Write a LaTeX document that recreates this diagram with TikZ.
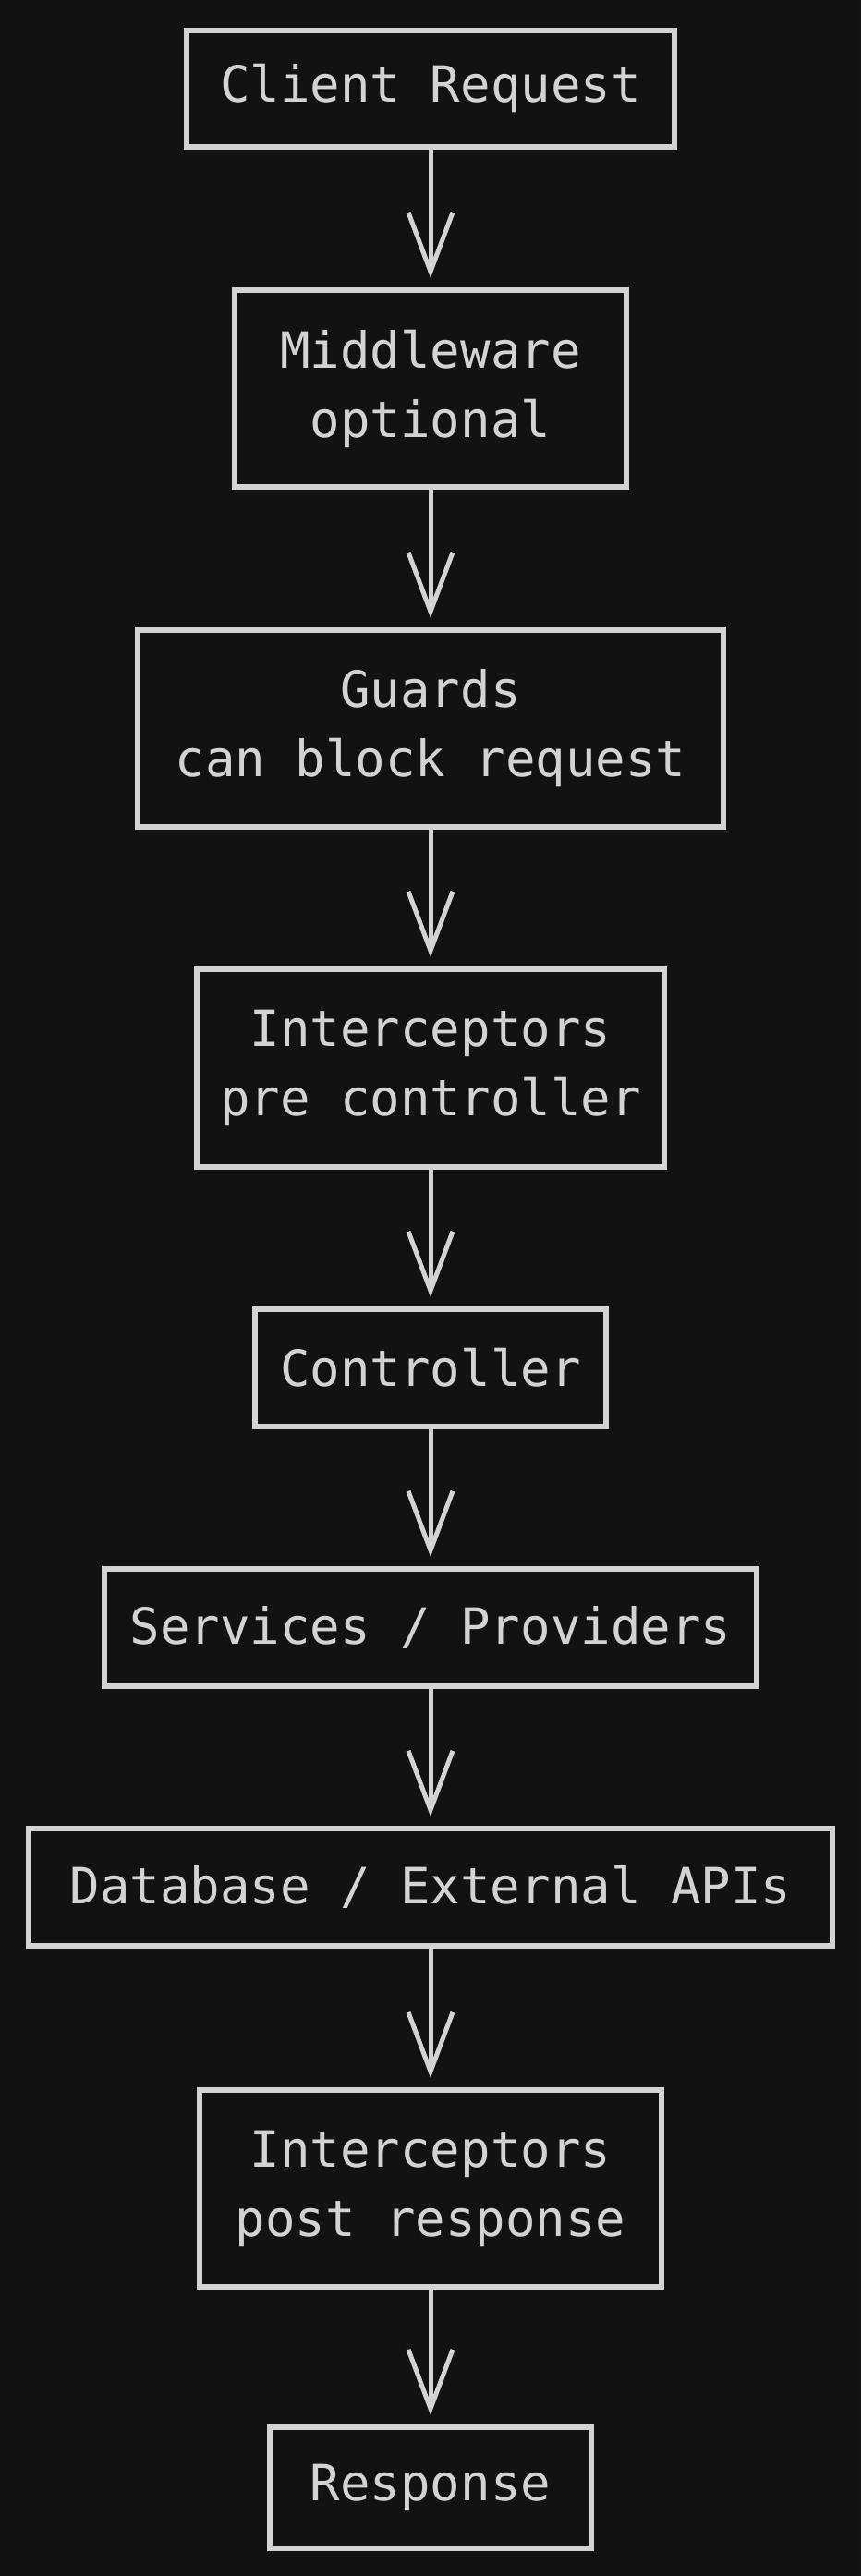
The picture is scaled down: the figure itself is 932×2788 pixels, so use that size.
\documentclass[tikz,border=0pt]{standalone}
\usepackage{fontspec}
\setmonofont{DejaVu Sans Mono}
\usetikzlibrary{calc}
\usetikzlibrary{arrows.meta}
\definecolor{bgdark}{HTML}{121212}
\definecolor{chalk}{HTML}{D3D3D3}
\tikzstyle{flownode} = [draw=chalk, line width=6pt, rectangle, inner sep=0pt, align=center, text=chalk, font=\ttfamily\fontsize{54}{75}\selectfont]
\tikzstyle{flowarrow} = [draw=chalk, line width=5pt, line cap=round, -{Straight Barb[length=64pt, width=48pt, line width=5pt]}, shorten >=10pt]

\begin{document}
\begin{tikzpicture}[x=1pt, y=-1pt]
    \fill[bgdark] (0,0) rectangle (932,2788);
    \useasboundingbox (0,0) rectangle (932,2788);
    \node[flownode, minimum width=528pt, minimum height=126pt] (client) at (466,96) {Client Request};
    \node[flownode, minimum width=424pt, minimum height=213pt] (middleware) at (466,420.5) {Middleware\\optional};
    \node[flownode, minimum width=634pt, minimum height=213pt] (guards) at (466,788.5) {Guards\\can block request};
    \node[flownode, minimum width=506pt, minimum height=214pt] (pre_icpt) at (466,1156) {Interceptors\\pre controller};
    \node[flownode, minimum width=380pt, minimum height=127pt] (controller) at (466,1480.5) {Controller};
    \node[flownode, minimum width=706pt, minimum height=127pt] (services) at (466,1761.5) {Services / Providers};
    \node[flownode, minimum width=870pt, minimum height=127pt] (database) at (466,2042.5) {Database / External APIs};
    \node[flownode, minimum width=500pt, minimum height=213pt] (post_icpt) at (466,2368.5) {Interceptors\\post response};
    \node[flownode, minimum width=348pt, minimum height=131pt] (response) at (466,2692.5) {Response};
    \draw[flowarrow] (client) -- (middleware);
    \draw[flowarrow] (middleware) -- (guards);
    \draw[flowarrow] (guards) -- (pre_icpt);
    \draw[flowarrow] (pre_icpt) -- (controller);
    \draw[flowarrow] (controller) -- (services);
    \draw[flowarrow] (services) -- (database);
    \draw[flowarrow] (database) -- (post_icpt);
    \draw[flowarrow] (post_icpt) -- (response);
\end{tikzpicture}
\end{document}
